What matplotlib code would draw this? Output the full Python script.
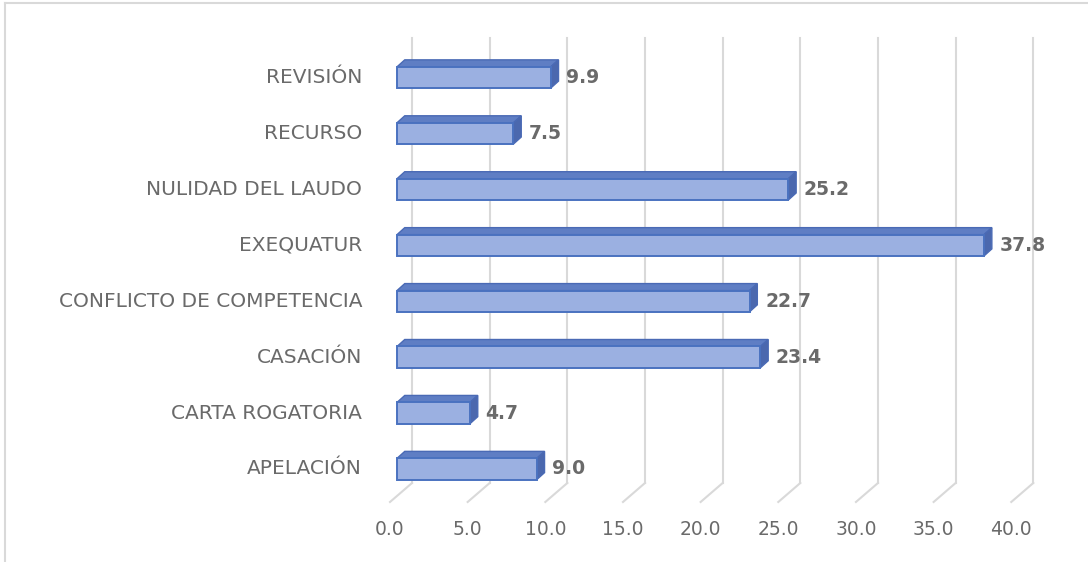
import matplotlib
matplotlib.use('Agg')
import matplotlib.pyplot as plt
from matplotlib.patches import Polygon
from matplotlib.lines import Line2D

categorias = ['APELACIÓN', 'CARTA ROGATORIA', 'CASACIÓN', 'CONFLICTO DE COMPETENCIA',
              'EXEQUATUR', 'NULIDAD DEL LAUDO', 'RECURSO', 'REVISIÓN']
valores = [9.0, 4.7, 23.4, 22.7, 37.8, 25.2, 7.5, 9.9]
ticks = [0, 5, 10, 15, 20, 25, 30, 35, 40]

# apariencia "3D" de Excel (en unidades de datos)
alto = 0.38          # alto de la cara frontal
prof_x, prof_y = 0.5, 0.125   # profundidad de la barra
fondo_x, fondo_y = 0.97, -0.25  # pared del fondo
frente_x, frente_y = -0.45, -0.59  # borde delantero del piso
techo = 7.71

gris_txt = '#6A6A6A'
gris_grid = '#D9D9D9'

fig = plt.figure(figsize=(10.88, 5.62), dpi=100)
ax = fig.add_axes([0, 0, 1, 1])
ax.set_xlim(-25.56, 44.49)
ax.set_ylim(-1.663, 8.385)
ax.axis('off')

# rejilla: lineas verticales del fondo y diagonales del piso
for t in ticks:
    ax.plot([t + fondo_x, t + fondo_x], [fondo_y, techo], color=gris_grid, lw=1.5, zorder=1)
    ax.plot([t + fondo_x, t + frente_x], [fondo_y, frente_y], color=gris_grid, lw=1.5, zorder=1)
    ax.text(t + frente_x, -1.09, f'{t:.1f}', ha='center', va='center',
            fontsize=13.5, color=gris_txt)

ys = list(range(len(categorias)))
ax.barh(ys, valores, height=alto, color='#9BB0E1', edgecolor='#4A72C0', lw=1.4, zorder=3)

for y, v, nombre in zip(ys, valores, categorias):
    arriba = y + alto / 2
    abajo = y - alto / 2
    cara_sup = Polygon([(0, arriba), (v, arriba), (v + prof_x, arriba + prof_y),
                        (prof_x, arriba + prof_y)], closed=True,
                       facecolor='#5F7EC4', edgecolor='#4A6AB5', lw=1.0, zorder=2)
    cara_lat = Polygon([(v, abajo), (v + prof_x, abajo + prof_y),
                        (v + prof_x, arriba + prof_y), (v, arriba)], closed=True,
                       facecolor='#4B68AE', edgecolor='#4A6AB5', lw=1.0, zorder=2)
    ax.add_patch(cara_sup)
    ax.add_patch(cara_lat)
    ax.text(v + 1.0, y, f'{v:.1f}', ha='left', va='center', fontsize=13.5,
            fontweight='bold', color=gris_txt, zorder=4)
    ax.text(-2.25, y, nombre, ha='right', va='center', fontsize=14.5, color=gris_txt)

# marco del area del grafico (solo izquierda y arriba visibles)
fig.add_artist(Line2D([5 / 1088, 5 / 1088], [0, 1 - 3 / 562], color=gris_grid, lw=1.5))
fig.add_artist(Line2D([5 / 1088, 1], [1 - 3 / 562, 1 - 3 / 562], color=gris_grid, lw=1.5))

fig.savefig('out.png', dpi=100)
